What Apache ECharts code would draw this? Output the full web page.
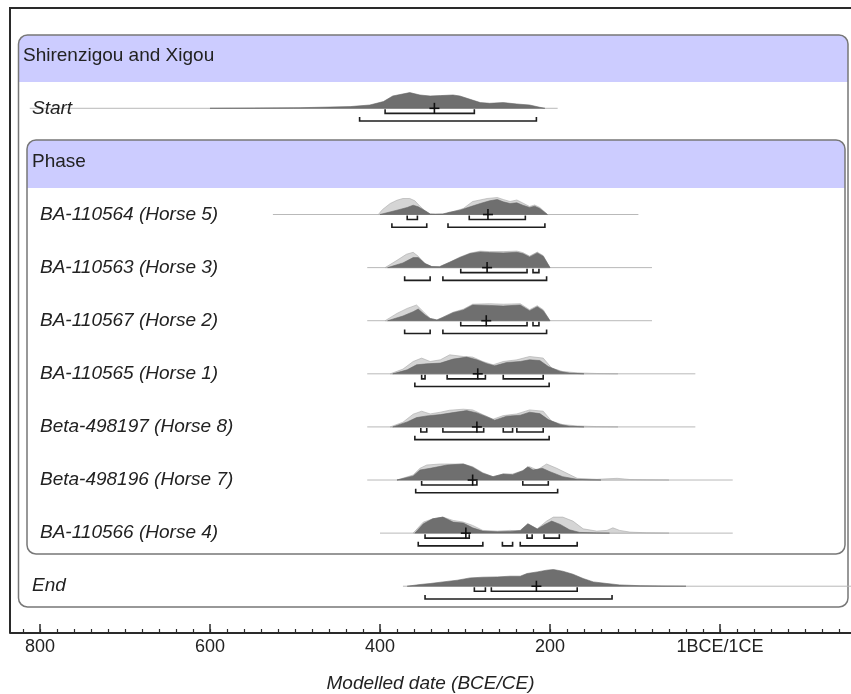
<!DOCTYPE html>
<html>
<head>
<meta charset="utf-8">
<script src="https://cdn.jsdelivr.net/npm/echarts@6/dist/echarts.min.js"></script>
<style>
html,body{margin:0;padding:0;background:#fff;}
#chart{width:851px;height:694px;}
</style>
</head>
<body>
<div id="chart"></div>
<script>
// ---------------- DATA (years BCE; negative = CE) ----------------
const rowNames = ['Start','BA-110564 (Horse 5)','BA-110563 (Horse 3)','BA-110567 (Horse 2)',
  'BA-110565 (Horse 1)','Beta-498197 (Horse 8)','Beta-498196 (Horse 7)','BA-110566 (Horse 4)','End'];
const rowPos = [0,2,3,4,5,6,7,8,9];
const lineRanges = [[812,191],[526,96],[415,80],[415,80],[415,29],[415,29],[415,-15],[400,-15],[373,-200]];

// unmodelled likelihoods (light grey), [year, relative density]
const lightStart = null;
const lightH5 = [[402,0],[397,5],[388,11],[380,14.3],[373,16],[365,16],[359,13.7],[353,8.3],[347,3.7],[341,0.5],[335,0.3],[326,0.5],[321,1],[302,6],[291,13],[274,16],[262,17],[255,15],[247,13],[239,14.5],[232,11.5],[224,8],[218,9.5],[212,7],[203,0]];
const lightH3 = [[394,0],[380,7.3],[369,13.3],[361,15.3],[355,11.3],[347,4],[339,1],[330,0.8],[326,2.5],[318,5.5],[306,10.5],[294,14.5],[282,16.5],[271,16],[255,16],[239,16.5],[232,15],[224,11.5],[215,15.5],[208,12],[200,0]];
const lightH2 = [[394,0],[380,7.3],[368,12.3],[357,15.7],[349,9],[341,2.3],[333,0.7],[326,3.5],[314,8.5],[302,11.5],[291,16.5],[271,17],[255,16.5],[235,17],[224,11],[215,15],[208,11],[200,0]];
const lightH1 = [[388,0],[373,4.7],[361,12.3],[351,15.7],[341,12.3],[329,14],[318,19],[302,17.3],[291,16.7],[279,12.3],[267,9],[255,12.3],[239,14],[224,17.3],[208,15.7],[198,5.7],[185,2.3],[168,1],[145,0.3],[120,0]];
const lightH8 = [[388,0],[373,4.7],[361,12.7],[351,15.7],[341,13],[329,14.7],[318,16.7],[302,17.7],[291,17],[279,12.3],[267,7.7],[255,11.3],[239,13],[224,17],[208,15.7],[198,5.7],[185,2.3],[168,1],[145,0.3],[120,0]];
const lightH7 = [[380,0],[361,5],[353,11.7],[345,15],[329,16],[318,16],[302,16],[291,13.3],[279,7.3],[267,3.3],[255,6],[244,6],[232,9.3],[224,13.3],[215,10],[204,16],[192,11.7],[180,6.7],[168,1.7],[145,0.7],[121,1.7],[106,0.5],[86,0.2],[60,0]];
const lightH4 = [[361,0],[349,11],[338,14.3],[326,16],[314,12.7],[302,11],[291,7.7],[279,2.7],[262,2],[247,2.7],[235,2],[226,9.3],[215,4.3],[204,12],[196,16],[185,16],[173,12],[161,4.3],[145,2],[133,2.7],[126,5.3],[118,2.7],[106,1],[86,0.3],[60,0]];
const lightEnd = null;

// modelled posteriors (dark grey)
const darkStart = [[600,0],[553,0.2],[494,0.6],[435,1.7],[412,3.3],[396,6.7],[385,12.3],[365,15.7],[353,13.3],[341,12.3],[329,12.7],[314,13.3],[306,12.3],[294,9],[282,5.7],[271,5],[255,5.7],[239,4.3],[224,3.3],[212,1],[206,0]];
const darkH5 = [[400,0],[380,4.3],[368,7],[361,9.3],[355,7.7],[347,3.7],[341,0.5],[335,0.3],[326,0.5],[318,2.3],[306,4.3],[294,7.7],[282,11],[271,13.7],[262,15],[255,12.7],[247,11],[239,11.7],[232,9.3],[224,7],[218,8.3],[212,6],[203,0]];
const darkH3 = [[391,0],[373,4.7],[361,10],[355,10],[347,4],[339,1],[330,0.8],[326,2.3],[318,5.3],[306,10],[294,14],[282,15.7],[271,15],[255,14.7],[239,15.3],[232,14],[224,10.7],[215,14.7],[208,11.3],[200,0]];
const darkH2 = [[391,0],[373,4.7],[361,9],[355,11.7],[347,5.7],[341,2.3],[333,0.7],[326,3.3],[314,8],[302,10.7],[291,15.7],[271,15.3],[255,14.7],[235,15.7],[224,10],[215,14],[208,10],[200,0]];
const darkH1 = [[385,0],[368,4],[357,9],[345,10],[329,10.7],[314,14.7],[298,16.7],[286,14],[274,10],[265,8],[251,11.3],[235,12.3],[224,14],[212,13.3],[202,7.3],[188,2.3],[177,0.7],[160,0]];
const darkH8 = [[385,0],[368,5],[357,9.3],[345,11],[329,12.3],[314,14.3],[298,16.3],[286,14],[274,10],[265,6.7],[251,10.7],[235,11.7],[224,14.7],[212,13.3],[202,7.3],[188,2.3],[177,0.7],[160,0]];
const darkH7 = [[380,0],[361,4],[353,10],[341,11.7],[321,15],[302,16],[291,12.7],[279,6.7],[267,3.3],[255,6],[244,5.3],[232,9.3],[226,13.3],[220,10],[209,11.7],[200,8.3],[185,3.3],[168,0.7],[153,0.2],[140,0]];
const darkH4 = [[359,0],[349,9.3],[338,14.3],[326,16],[314,11],[302,10],[291,5.3],[279,2],[262,1.3],[247,1.7],[235,2.7],[226,9.3],[215,4],[206,8.7],[198,12],[188,8.7],[177,3.3],[165,0.7],[145,0.2],[130,0]];
const darkEnd = [[368,0],[353,1.7],[341,2.7],[326,4.3],[309,6],[294,8.3],[279,9],[262,9.3],[247,10],[235,10],[227,12.7],[215,14.3],[204,16],[196,16.7],[185,15],[173,12],[161,7.7],[149,4.3],[133,2.7],[118,1.3],[94,0.5],[67,0.2],[40,0]];

const lightDensity = [lightStart, lightH5, lightH3, lightH2, lightH1, lightH8, lightH7, lightH4, lightEnd];
const darkDensity = [darkStart, darkH5, darkH3, darkH2, darkH1, darkH8, darkH7, darkH4, darkEnd];

// 68.3% (inner) and 95.4% (outer) ranges
const innerRanges = [[[394,289]],[[368,356],[295,229]],[[305,227],[220,213]],[[305,227],[220,213]],
  [[351,347],[321,276],[255,208]],[[352,345],[326,278],[255,244],[239,208]],[[351,286],[232,202]],
  [[347,295],[227,221],[207,189]],[[289,276],[269,168]]];
const outerRanges = [[[424,216]],[[386,345],[320,206]],[[371,341],[326,204]],[[371,341],[326,204]],
  [[359,201]],[[359,201]],[[358,191]],[[355,279],[256,244],[235,168]],[[347,127]]];
const means = [336,273,274,275,285,286,291,299,216];

const majorTicks = [800,600,400,200,0];
const tickLabels = {800:'800',600:'600',400:'400',200:'200',0:'1BCE/1CE'};
const minorTicks = [];
for (let v = 820; v >= -140; v -= 20) minorTicks.push(v);

// ---------------- STYLE / LAYOUT ----------------
const FONT = '"Liberation Sans", Arial, Helvetica, sans-serif';
const DENS_SCALE = 1 / 53.1;     // density units -> row units
const INNER_OFF = 0.095, OUTER_OFF = 0.24;
const labelX = [32,40,40,40,40,40,40,40,32];
const X_MIN = -154.12, X_MAX = 835.29;

function renderItem(params, api) {
  const i = params.dataIndex;
  const r = rowPos[i];
  const base = api.coord([0, r])[1];
  const X = yr => api.coord([yr, r])[0];
  const children = [];
  children.push({type:'line', shape:{x1:X(lineRanges[i][0]), y1:base, x2:X(lineRanges[i][1]), y2:base},
    style:{stroke:'#b9b9b9', lineWidth:1}});
  const poly = (d, fill, stroke) => {
    const pts = [[X(d[0][0]), base]];
    d.forEach(p => pts.push(api.coord([p[0], r - p[1]*DENS_SCALE])));
    pts.push([X(d[d.length-1][0]), base]);
    return {type:'polygon', shape:{points:pts}, style:{fill:fill, stroke:stroke, lineWidth:0.6}};
  };
  if (lightDensity[i]) children.push(poly(lightDensity[i], '#d5d5d5', '#aaaaaa'));
  if (darkDensity[i]) children.push(poly(darkDensity[i], '#6f6f6f', '#666666'));
  const bracket = (rg, off) => {
    const y = api.coord([0, r + off])[1];
    const a = X(rg[0]), b = X(rg[1]);
    return {type:'polyline', shape:{points:[[a,y-4],[a,y],[b,y],[b,y-4]]},
      style:{stroke:'#1e1e1e', lineWidth:1.6, fill:null}};
  };
  innerRanges[i].forEach(rg => children.push(bracket(rg, INNER_OFF)));
  outerRanges[i].forEach(rg => children.push(bracket(rg, OUTER_OFF)));
  const c = api.coord([means[i], r]);
  children.push({type:'line', shape:{x1:c[0]-5, y1:c[1], x2:c[0]+5, y2:c[1]}, style:{stroke:'#111', lineWidth:1.6}});
  children.push({type:'line', shape:{x1:c[0], y1:c[1]-5.5, x2:c[0], y2:c[1]+5.5}, style:{stroke:'#111', lineWidth:1.6}});
  children.push({type:'text', x:labelX[i], y:base, style:{text:rowNames[i], font:'italic 19px ' + FONT,
    fill:'#222', verticalAlign:'middle', align:'left'}});
  return {type:'group', children:children};
}

const chart = echarts.init(document.getElementById('chart'), null, {renderer:'canvas'});
chart.setOption({
  animation:false,
  backgroundColor:'#fff',
  grid:[{left:10, right:0, top:8, bottom:61, containLabel:false, outerBoundsMode:'none'},
        {left:10, right:0, top:8, bottom:61, containLabel:false, outerBoundsMode:'none'}],
  xAxis:[{
    gridIndex:0, type:'value', inverse:true, min:X_MIN, max:X_MAX, position:'bottom',
    axisLine:{show:true, onZero:false, lineStyle:{color:'#2a2a2a', width:2}},
    axisTick:{show:true, inside:true, length:9, customValues:majorTicks, lineStyle:{color:'#2a2a2a', width:1.5}},
    axisLabel:{show:true, customValues:majorTicks, formatter:v => tickLabels[v] !== undefined ? tickLabels[v] : '',
      fontSize:18, fontFamily:FONT, color:'#222', margin:5},
    splitLine:{show:false},
    name:'Modelled date (BCE/CE)', nameLocation:'middle', nameGap:41,
    nameTextStyle:{fontStyle:'italic', fontSize:19, fontFamily:FONT, color:'#222'}
  },{
    gridIndex:1, type:'value', inverse:true, min:X_MIN, max:X_MAX, position:'bottom',
    axisLine:{show:false},
    axisTick:{show:true, inside:true, length:4, customValues:minorTicks, lineStyle:{color:'#2a2a2a', width:1.2}},
    axisLabel:{show:false}, splitLine:{show:false}
  }],
  yAxis:[{gridIndex:0, type:'value', inverse:true, min:-1.889, max:9.881, show:false},
         {gridIndex:1, type:'value', min:0, max:1, show:false}],
  graphic:[
    {type:'polyline', z:0, shape:{points:[[851,8],[10,8],[10,633]]}, style:{stroke:'#2a2a2a', lineWidth:2, fill:null}},
    {type:'rect', z:0, shape:{x:18.5, y:35, width:829.5, height:47, r:[9,9,0,0]}, style:{fill:'#ccccff'}},
    {type:'rect', z:0, shape:{x:18.5, y:35, width:829.5, height:572, r:9}, style:{fill:null, stroke:'#777', lineWidth:1.5}},
    {type:'text', z:1, x:23, y:56, style:{text:'Shirenzigou and Xigou', font:'19px ' + FONT, fill:'#222', verticalAlign:'middle'}},
    {type:'rect', z:0, shape:{x:27, y:140, width:818, height:48, r:[9,9,0,0]}, style:{fill:'#ccccff'}},
    {type:'rect', z:0, shape:{x:27, y:140, width:818, height:414, r:9}, style:{fill:null, stroke:'#777', lineWidth:1.5}},
    {type:'text', z:1, x:32, y:162, style:{text:'Phase', font:'19px ' + FONT, fill:'#222', verticalAlign:'middle'}}
  ],
  series:[{
    type:'custom', coordinateSystem:'cartesian2d', xAxisIndex:0, yAxisIndex:0,
    renderItem:renderItem, data:rowNames.map((n, i) => [i]), silent:true, clip:false, z:5
  }]
});
</script>
</body>
</html>
